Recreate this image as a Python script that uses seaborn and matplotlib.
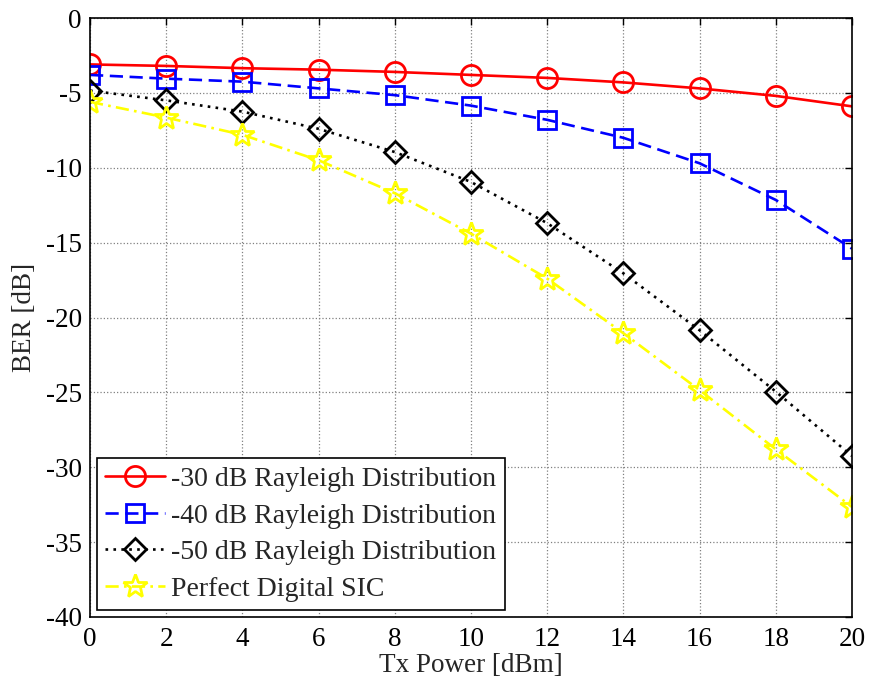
import numpy as np
import pandas as pd
import matplotlib
matplotlib.use("Agg")
import matplotlib.pyplot as plt
import seaborn as sns

tx_power = [0, 2, 4, 6, 8, 10, 12, 14, 16, 18, 20]
ber_30 = [-3.1, -3.2, -3.35, -3.45, -3.6, -3.8, -4.0, -4.3, -4.7, -5.2, -5.9]
ber_40 = [-3.8, -4.05, -4.25, -4.7, -5.15, -5.85, -6.8, -8.0, -9.7, -12.15, -15.4]
ber_50 = [-4.85, -5.5, -6.25, -7.4, -8.95, -10.95, -13.7, -17.05, -20.85, -24.95, -29.25]
ber_perfect = [-5.6, -6.65, -7.8, -9.5, -11.7, -14.4, -17.4, -21.05, -24.85, -28.8, -32.65]
labels = ["-30 dB Rayleigh Distribution", "-40 dB Rayleigh Distribution",
          "-50 dB Rayleigh Distribution", "Perfect Digital SIC"]
xticks = [0, 2, 4, 6, 8, 10, 12, 14, 16, 18, 20]
yticks = [0, -5, -10, -15, -20, -25, -30, -35, -40]

sns.set_style("white")
plt.rcParams['font.family'] = ['Liberation Serif', 'DejaVu Serif']
plt.rcParams['font.size'] = 19.5

fig = plt.figure(figsize=(8.69, 6.9), dpi=100)
ax = fig.add_axes([0.1036, 0.1058, 0.8768, 0.8681])

series = [ber_30, ber_40, ber_50, ber_perfect]
colors = ['#ff0000', '#0000ff', '#000000', '#ffff00']
markers = ['o', 's', 'D', '*']
msizes = [14.5, 12.5, 11, 18]
lstyles = ['-', (0, (5, 2.5)), (0, (1, 2)), (0, (5, 2, 1, 2))]

for ys, c, m, ms, ls, lab in zip(series, colors, markers, msizes, lstyles, labels):
    sns.lineplot(x=tx_power, y=ys, ax=ax, color=c, marker=m, markersize=ms,
                 markerfacecolor='none', markeredgecolor=c, markeredgewidth=2.0,
                 linestyle=ls, linewidth=1.9, label=lab, sort=False, errorbar=None)

ax.set_xlim(0, 20)
ax.set_ylim(-40, 0)
ax.set_xticks(xticks)
ax.set_yticks(yticks)
ax.set_xticklabels([str(v) for v in xticks])
ax.set_yticklabels([str(v) for v in yticks])
ax.grid(True, color='#808080', linestyle=':', linewidth=0.9)
ax.tick_params(axis='both', direction='in', length=5, width=1, top=True, right=True,
               labelsize=19.5, colors='black')
ax.tick_params(axis='x', pad=7)
ax.tick_params(axis='y', pad=6)
for s in ax.spines.values():
    s.set_color('black')
    s.set_linewidth(1.2)
ax.set_xlabel("Tx Power [dBm]", fontsize=19.5, labelpad=1)
ax.set_ylabel("BER [dB]", fontsize=19.5, labelpad=6)

leg = ax.legend(loc='lower left', frameon=True, fancybox=False, fontsize=20,
                borderaxespad=0.25, handlelength=2.15, handletextpad=0.22,
                labelspacing=0.4, borderpad=0.3)
leg.get_frame().set_edgecolor('black')
leg.get_frame().set_linewidth(1.2)
leg.get_frame().set_alpha(1)

fig.savefig("out.png", dpi=100)
